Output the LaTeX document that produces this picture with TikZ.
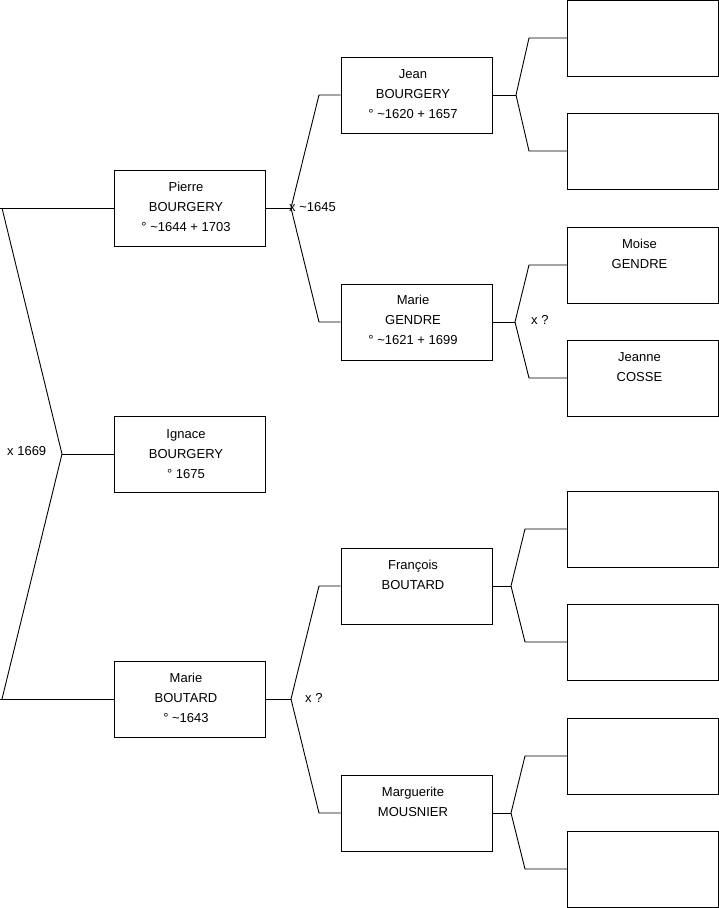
\documentclass[tikz,border=0pt]{standalone}
\usepackage{fontspec}
\setmainfont{Liberation Sans}
\begin{document}
\begin{tikzpicture}[x=1pt,y=-1pt,
  box/.style={draw=black,line width=0.9pt,minimum width=151pt,minimum height=76pt,inner sep=0pt},
  txt/.style={align=center,font=\fontsize{13}{20}\selectfont,inner sep=0pt,xshift=-3.5pt},
  lbl/.style={anchor=west,font=\fontsize{13}{16}\selectfont,inner sep=0pt},
  conn/.style={line width=0.9pt,black,line join=miter}]
\useasboundingbox (0,0) rectangle (719,908);
% generation 1
\node[box] (pierre) at (189.5,208) {};
\node[box] (ignace) at (189.5,454) {};
\node[box] (boutard) at (189.5,699) {};
% generation 2
\node[box] (jean) at (416.5,95) {};
\node[box] (gendre) at (416.5,322) {};
\node[box] (francois) at (416.5,586) {};
\node[box] (marguerite) at (416.5,813) {};
% generation 3
\node[box] (g1) at (643,38) {};
\node[box] (g2) at (643,151) {};
\node[box] (moise) at (643,265) {};
\node[box] (jeanne) at (643,378) {};
\node[box] (g5) at (643,529) {};
\node[box] (g6) at (643,642) {};
\node[box] (g7) at (643,756) {};
\node[box] (g8) at (643,869) {};
% texts
\node[txt] at ([yshift=1pt]pierre.center) {Pierre\\BOURGERY\\° \textasciitilde1644 + 1703};
\node[txt] at ([yshift=0pt]ignace.center) {Ignace\\BOURGERY\\° 1675};
\node[txt] at ([yshift=1pt]boutard.center) {Marie\\BOUTARD\\° \textasciitilde1643};
\node[txt] at ([yshift=1pt]jean.center) {Jean\\BOURGERY\\° \textasciitilde1620 + 1657};
\node[txt] at ([yshift=2pt]gendre.center) {Marie\\GENDRE\\° \textasciitilde1621 + 1699};
\node[txt] at ([yshift=-2pt]francois.center) {François\\BOUTARD\\\strut};
\node[txt] at ([yshift=-2pt]marguerite.center) {Marguerite\\MOUSNIER\\\strut};
\node[txt] at ([yshift=-2pt]moise.center) {Moise\\GENDRE\\\strut};
\node[txt] at ([yshift=-2pt]jeanne.center) {Jeanne\\COSSE\\\strut};
% coordinates
\coordinate (c1) at (2,208);
\coordinate (c2) at (2,699);
\coordinate (f0) at (62,454);
\coordinate (f1) at (291,208);
\coordinate (f2) at (291,699);
\coordinate (f3) at (516,95);
\coordinate (f4) at (515,322);
\coordinate (f5) at (511,586);
\coordinate (f6) at (511,813);
% connectors
\draw[conn] (0,208) -- (pierre.west);
\draw[conn] (c1) -- (f0) -- (c2);
\draw[conn] (0,699) -- (boutard.west);
\draw[conn] (f0) -- (ignace.west);
\draw[conn] (pierre.east) -- (f1);
\draw[conn] (jean.west) -- (319,95) -- (f1) -- (319,322) -- (gendre.west);
\draw[conn] (boutard.east) -- (f2);
\draw[conn] (francois.west) -- (319,586) -- (f2) -- (319,813) -- (marguerite.west);
\draw[conn] (jean.east) -- (f3);
\draw[conn] (g1.west) -- (529,38) -- (f3) -- (529,151) -- (g2.west);
\draw[conn] (gendre.east) -- (f4);
\draw[conn] (moise.west) -- (529,265) -- (f4) -- (529,378) -- (jeanne.west);
\draw[conn] (francois.east) -- (f5);
\draw[conn] (g5.west) -- (525,529) -- (f5) -- (525,642) -- (g6.west);
\draw[conn] (marguerite.east) -- (f6);
\draw[conn] (g7.west) -- (525,756) -- (f6) -- (525,869) -- (g8.west);
% labels
\node[lbl] (l0) at (7,451) {x 1669};
\node[lbl] (l1) at (289,207) {x \textasciitilde1645};
\node[lbl] (l2) at (305,698) {x ?};
\node[lbl] (l3) at (531,320) {x ?};
\end{tikzpicture}
\end{document}
